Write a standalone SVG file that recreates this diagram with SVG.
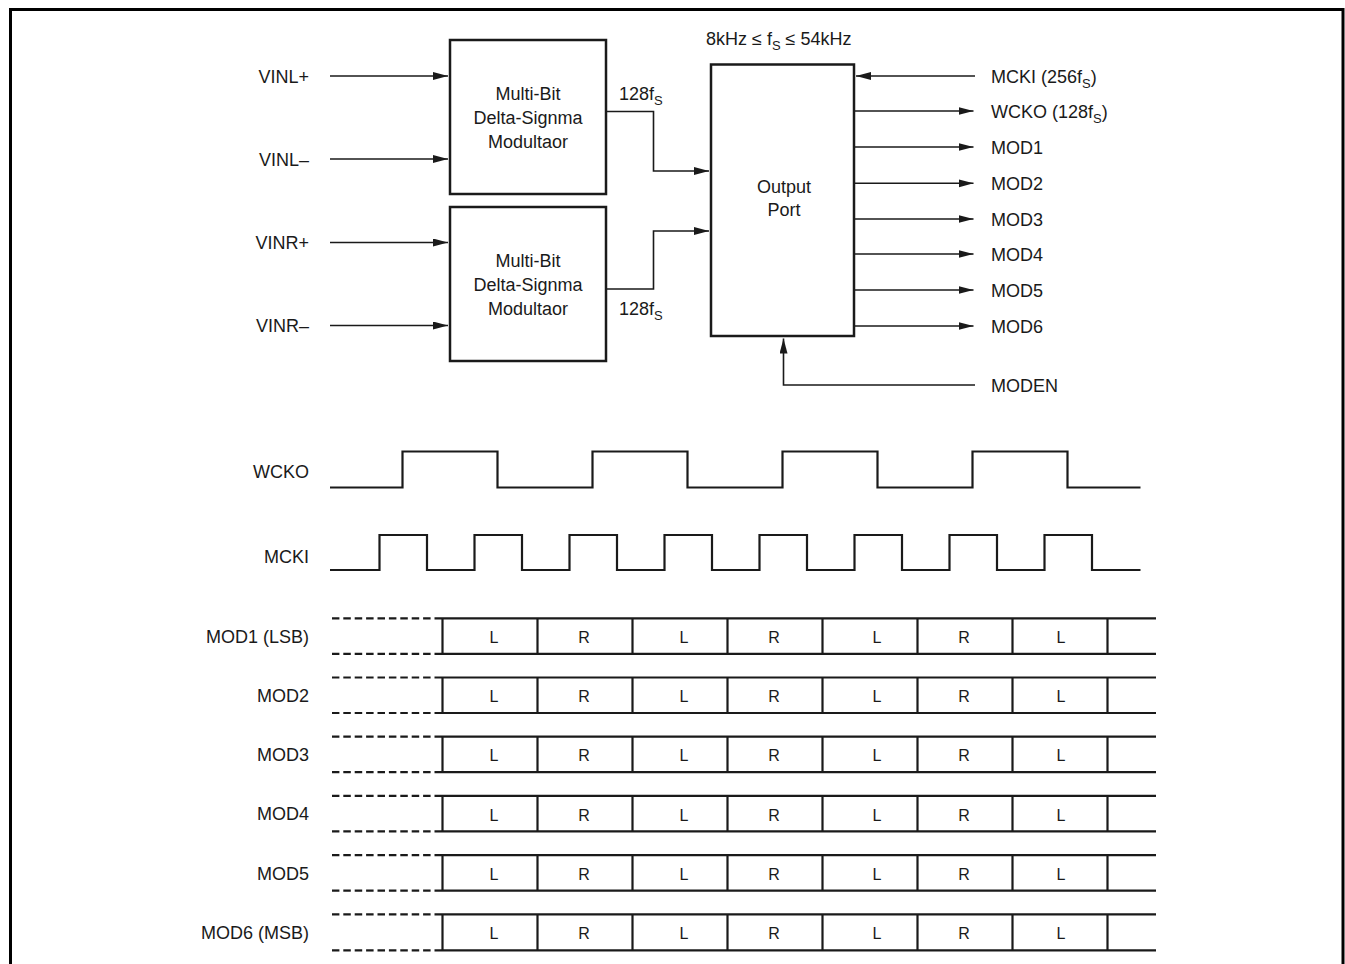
<svg xmlns="http://www.w3.org/2000/svg" width="1345" height="964" viewBox="0 0 1345 964">
<style>
text{font-family:"Liberation Sans",Arial,sans-serif;font-size:18px;fill:#1a1a1a}
.sub{font-size:13px}
.cell{font-size:16px;text-anchor:middle}
.lbl{text-anchor:end}
.box{fill:none;stroke:#1a1a1a;stroke-width:2.5}
.wire{fill:none;stroke:#1a1a1a;stroke-width:1.6}
.wave{fill:none;stroke:#1a1a1a;stroke-width:2.2}
.bus{fill:none;stroke:#1a1a1a;stroke-width:2.2}
.dash{fill:none;stroke:#1a1a1a;stroke-width:2.2;stroke-dasharray:7.5 3.9}
.frame{fill:none;stroke:#000;stroke-width:3}
</style>
<defs>
<marker id="ah" markerUnits="userSpaceOnUse" markerWidth="16" markerHeight="9" refX="15" refY="4" orient="auto">
<path d="M0,0 L15,4 L0,8 z" fill="#1a1a1a"/>
</marker>
</defs>
<rect width="1345" height="964" fill="#fff"/>
<path class="frame" d="M10.5,964 V9.5 H1343 V964"/>

<g id="inputs">
<text class="lbl" x="309" y="82.5">VINL+</text>
<text class="lbl" x="309" y="165.5">VINL–</text>
<text class="lbl" x="309" y="248.5">VINR+</text>
<text class="lbl" x="309" y="332">VINR–</text>
</g>

<g id="mod-left">
<rect class="box" x="450" y="40" width="156" height="154"/>
<text x="528" y="100" text-anchor="middle">Multi-Bit</text>
<text x="528" y="124" text-anchor="middle">Delta-Signma</text>
<text x="528" y="148" text-anchor="middle">Modultaor</text>
</g>

<g id="mod-right">
<rect class="box" x="450" y="207" width="156" height="154"/>
<text x="528" y="267" text-anchor="middle">Multi-Bit</text>
<text x="528" y="291" text-anchor="middle">Delta-Signma</text>
<text x="528" y="315" text-anchor="middle">Modultaor</text>
</g>

<g id="output-port">
<rect class="box" x="711" y="64.5" width="143" height="271.5"/>
<text x="784" y="193" text-anchor="middle">Output</text>
<text x="784" y="216" text-anchor="middle">Port</text>
<text x="706" y="45">8kHz ≤ f<tspan class="sub" dy="5">S</tspan><tspan dy="-5"> ≤ 54kHz</tspan></text>
</g>

<g id="rate-labels">
<text x="619" y="100">128f<tspan class="sub" dy="5">S</tspan></text>
<text x="619" y="315">128f<tspan class="sub" dy="5">S</tspan></text>
</g>

<g id="outputs">
<text x="991" y="82.5">MCKI (256f<tspan class="sub" dy="5">S</tspan><tspan dy="-5">)</tspan></text>
<text x="991" y="117.5">WCKO (128f<tspan class="sub" dy="5">S</tspan><tspan dy="-5">)</tspan></text>
<text x="991" y="153.5">MOD1</text>
<text x="991" y="190">MOD2</text>
<text x="991" y="225.5">MOD3</text>
<text x="991" y="260.5">MOD4</text>
<text x="991" y="296.5">MOD5</text>
<text x="991" y="332.5">MOD6</text>
<text x="991" y="391.5">MODEN</text>
</g>

<g id="connectors">
<line class="wire" x1="330" y1="76" x2="448" y2="76" marker-end="url(#ah)"/>
<line class="wire" x1="330" y1="159" x2="448" y2="159" marker-end="url(#ah)"/>
<line class="wire" x1="330" y1="242.5" x2="448" y2="242.5" marker-end="url(#ah)"/>
<line class="wire" x1="330" y1="325.5" x2="448" y2="325.5" marker-end="url(#ah)"/>
<path class="wire" d="M606,111.5 H653.5 V171 H709" marker-end="url(#ah)"/>
<path class="wire" d="M606,289 H653.5 V231 H709" marker-end="url(#ah)"/>
<line class="wire" x1="975" y1="76" x2="856" y2="76" marker-end="url(#ah)"/>
<line class="wire" x1="855" y1="111" x2="973.5" y2="111" marker-end="url(#ah)"/>
<line class="wire" x1="855" y1="147" x2="973.5" y2="147" marker-end="url(#ah)"/>
<line class="wire" x1="855" y1="183.3" x2="973.5" y2="183.3" marker-end="url(#ah)"/>
<line class="wire" x1="855" y1="219" x2="973.5" y2="219" marker-end="url(#ah)"/>
<line class="wire" x1="855" y1="254" x2="973.5" y2="254" marker-end="url(#ah)"/>
<line class="wire" x1="855" y1="290" x2="973.5" y2="290" marker-end="url(#ah)"/>
<line class="wire" x1="855" y1="326" x2="973.5" y2="326" marker-end="url(#ah)"/>
<path class="wire" d="M975,385 H783.5 V338.5" marker-end="url(#ah)"/>
</g>

<g id="wcko-wave">
<text class="lbl" x="309" y="478">WCKO</text>
<path class="wave" d="M330,487.5 H402.5 V451.5 H497.5 V487.5 H592.5 V451.5 H687.5 V487.5 H782.5 V451.5 H877.5 V487.5 H972.5 V451.5 H1067.5 V487.5 H1140.5"/>
</g>

<g id="mcki-wave">
<text class="lbl" x="309" y="562.5">MCKI</text>
<path class="wave" d="M330,570 H379.5 V535 H427 V570 H474.5 V535 H522 V570 H569.5 V535 H617 V570 H664.5 V535 H712 V570 H759.5 V535 H807 V570 H854.5 V535 H902 V570 H949.5 V535 H997 V570 H1044.5 V535 H1092 V570 H1140.5"/>
</g>

<g id="mod1-row" transform="translate(0,618.3)">
<text class="lbl" x="309" y="24.5">MOD1 (LSB)</text>
<path class="dash" d="M442,0 H332 M442,35.5 H332"/>
<path class="bus" d="M442,0 H1156 M442,35.5 H1156 M442.5,0 V35.5 M537.5,0 V35.5 M632.5,0 V35.5 M727.5,0 V35.5 M822.5,0 V35.5 M917.5,0 V35.5 M1012.5,0 V35.5 M1107.5,0 V35.5"/>
<text class="cell" x="494" y="24.8">L</text><text class="cell" x="584" y="24.8">R</text><text class="cell" x="684" y="24.8">L</text><text class="cell" x="774" y="24.8">R</text><text class="cell" x="877" y="24.8">L</text><text class="cell" x="964" y="24.8">R</text><text class="cell" x="1061" y="24.8">L</text>
</g>

<g id="mod2-row" transform="translate(0,677.5)">
<text class="lbl" x="309" y="24.5">MOD2</text>
<path class="dash" d="M442,0 H332 M442,35.5 H332"/>
<path class="bus" d="M442,0 H1156 M442,35.5 H1156 M442.5,0 V35.5 M537.5,0 V35.5 M632.5,0 V35.5 M727.5,0 V35.5 M822.5,0 V35.5 M917.5,0 V35.5 M1012.5,0 V35.5 M1107.5,0 V35.5"/>
<text class="cell" x="494" y="24.8">L</text><text class="cell" x="584" y="24.8">R</text><text class="cell" x="684" y="24.8">L</text><text class="cell" x="774" y="24.8">R</text><text class="cell" x="877" y="24.8">L</text><text class="cell" x="964" y="24.8">R</text><text class="cell" x="1061" y="24.8">L</text>
</g>

<g id="mod3-row" transform="translate(0,736.7)">
<text class="lbl" x="309" y="24.5">MOD3</text>
<path class="dash" d="M442,0 H332 M442,35.5 H332"/>
<path class="bus" d="M442,0 H1156 M442,35.5 H1156 M442.5,0 V35.5 M537.5,0 V35.5 M632.5,0 V35.5 M727.5,0 V35.5 M822.5,0 V35.5 M917.5,0 V35.5 M1012.5,0 V35.5 M1107.5,0 V35.5"/>
<text class="cell" x="494" y="24.8">L</text><text class="cell" x="584" y="24.8">R</text><text class="cell" x="684" y="24.8">L</text><text class="cell" x="774" y="24.8">R</text><text class="cell" x="877" y="24.8">L</text><text class="cell" x="964" y="24.8">R</text><text class="cell" x="1061" y="24.8">L</text>
</g>

<g id="mod4-row" transform="translate(0,795.9)">
<text class="lbl" x="309" y="24.5">MOD4</text>
<path class="dash" d="M442,0 H332 M442,35.5 H332"/>
<path class="bus" d="M442,0 H1156 M442,35.5 H1156 M442.5,0 V35.5 M537.5,0 V35.5 M632.5,0 V35.5 M727.5,0 V35.5 M822.5,0 V35.5 M917.5,0 V35.5 M1012.5,0 V35.5 M1107.5,0 V35.5"/>
<text class="cell" x="494" y="24.8">L</text><text class="cell" x="584" y="24.8">R</text><text class="cell" x="684" y="24.8">L</text><text class="cell" x="774" y="24.8">R</text><text class="cell" x="877" y="24.8">L</text><text class="cell" x="964" y="24.8">R</text><text class="cell" x="1061" y="24.8">L</text>
</g>

<g id="mod5-row" transform="translate(0,855.1)">
<text class="lbl" x="309" y="24.5">MOD5</text>
<path class="dash" d="M442,0 H332 M442,35.5 H332"/>
<path class="bus" d="M442,0 H1156 M442,35.5 H1156 M442.5,0 V35.5 M537.5,0 V35.5 M632.5,0 V35.5 M727.5,0 V35.5 M822.5,0 V35.5 M917.5,0 V35.5 M1012.5,0 V35.5 M1107.5,0 V35.5"/>
<text class="cell" x="494" y="24.8">L</text><text class="cell" x="584" y="24.8">R</text><text class="cell" x="684" y="24.8">L</text><text class="cell" x="774" y="24.8">R</text><text class="cell" x="877" y="24.8">L</text><text class="cell" x="964" y="24.8">R</text><text class="cell" x="1061" y="24.8">L</text>
</g>

<g id="mod6-row" transform="translate(0,914.3)">
<text class="lbl" x="309" y="24.5">MOD6 (MSB)</text>
<path class="dash" d="M442,0 H332 M442,36 H332"/>
<path class="bus" d="M442,0 H1156 M442,36 H1156 M442.5,0 V36 M537.5,0 V36 M632.5,0 V36 M727.5,0 V36 M822.5,0 V36 M917.5,0 V36 M1012.5,0 V36 M1107.5,0 V36"/>
<text class="cell" x="494" y="25">L</text><text class="cell" x="584" y="25">R</text><text class="cell" x="684" y="25">L</text><text class="cell" x="774" y="25">R</text><text class="cell" x="877" y="25">L</text><text class="cell" x="964" y="25">R</text><text class="cell" x="1061" y="25">L</text>
</g>
</svg>
